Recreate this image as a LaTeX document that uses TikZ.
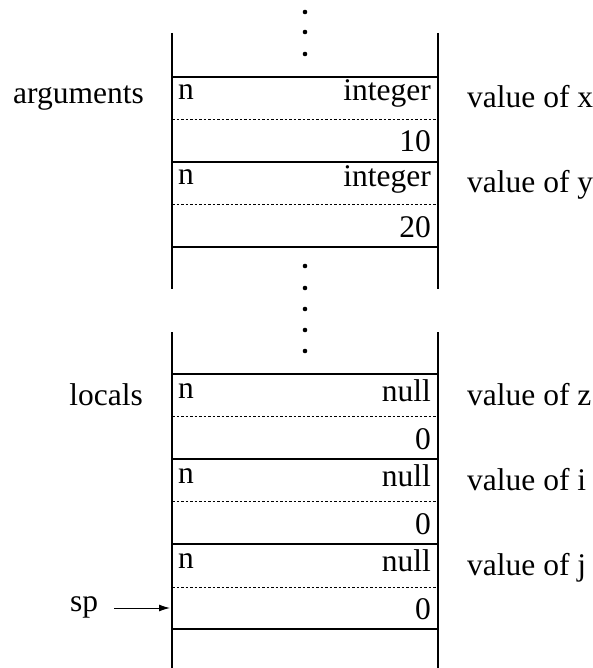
\documentclass[tikz,border=0pt]{standalone}
\usepackage{fontspec}
\setmainfont{Liberation Serif}
\usetikzlibrary{arrows.meta}
\begin{document}
\begin{tikzpicture}[x=1pt,y=-1pt,
  lbl/.style={inner sep=0pt,font=\fontsize{31.5}{36}\selectfont},
  frame/.style={line width=1.3pt},
  sep/.style={line width=0.9pt,dash pattern=on 2.5pt off 2pt},
  dot/.style={fill=black,circle,inner sep=0pt,minimum size=4.6pt}]
\useasboundingbox (0,0) rectangle (593,668);
% vertical sides
\draw[frame] (172,33) -- (172,289);
\draw[frame] (438,33) -- (438,289);
\draw[frame] (172,332) -- (172,668);
\draw[frame] (438,332) -- (438,668);
% argument cells
\draw[frame] (172,77) -- (438,77);
\draw[sep] (172,119) -- (438,119);
\draw[frame] (172,162) -- (438,162);
\draw[sep] (172,204) -- (438,204);
\draw[frame] (172,247) -- (438,247);
% local cells
\draw[frame] (172,374) -- (438,374);
\draw[sep] (172,416) -- (438,416);
\draw[frame] (172,459) -- (438,459);
\draw[sep] (172,501) -- (438,501);
\draw[frame] (172,544) -- (438,544);
\draw[sep] (172,587) -- (438,587);
\draw[frame] (172,629) -- (438,629);
% texts in argument cells
\node[lbl,anchor=base west] (n1) at (178,100) {n};
\node[lbl,anchor=base east] (t1) at (431,101) {integer};
\node[lbl,anchor=base east] (v1) at (431,152) {10};
\node[lbl,anchor=base west] (n2) at (178,185) {n};
\node[lbl,anchor=base east] (t2) at (431,186) {integer};
\node[lbl,anchor=base east] (v2) at (431,237) {20};
% texts in local cells
\node[lbl,anchor=base west] (n3) at (178,398) {n};
\node[lbl,anchor=base east] (t3) at (431,401) {null};
\node[lbl,anchor=base east] (v3) at (431,449) {0};
\node[lbl,anchor=base west] (n4) at (178,483) {n};
\node[lbl,anchor=base east] (t4) at (431,486) {null};
\node[lbl,anchor=base east] (v4) at (431,534) {0};
\node[lbl,anchor=base west] (n5) at (178,568) {n};
\node[lbl,anchor=base east] (t5) at (431,571) {null};
\node[lbl,anchor=base east] (v5) at (431,619) {0};
% side labels
\node[lbl,anchor=base east] (args) at (144,104) {arguments};
\node[lbl,anchor=base east] (locs) at (143,405) {locals};
\node[lbl,anchor=base west] (vx) at (467,108) {value of x};
\node[lbl,anchor=base west] (vy) at (467,193) {value of y};
\node[lbl,anchor=base west] (vz) at (467,405) {value of z};
\node[lbl,anchor=base west] (vi) at (467,490) {value of i};
\node[lbl,anchor=base west] (vj) at (467,575) {value of j};
% dots
\foreach \y [count=\i] in {12,32,54} \node[dot] (dt\i) at (305,\y) {};
\foreach \y [count=\i] in {266,288,309,330,351} \node[dot] (dm\i) at (305,\y) {};
% sp pointer
\node[lbl,anchor=base west] (sp) at (70,611) {sp};
\coordinate (spend) at (170,608);
\draw[line width=1pt,-{Latex[length=11pt,width=7pt]}] (114,608) -- (spend);
\end{tikzpicture}
\end{document}
